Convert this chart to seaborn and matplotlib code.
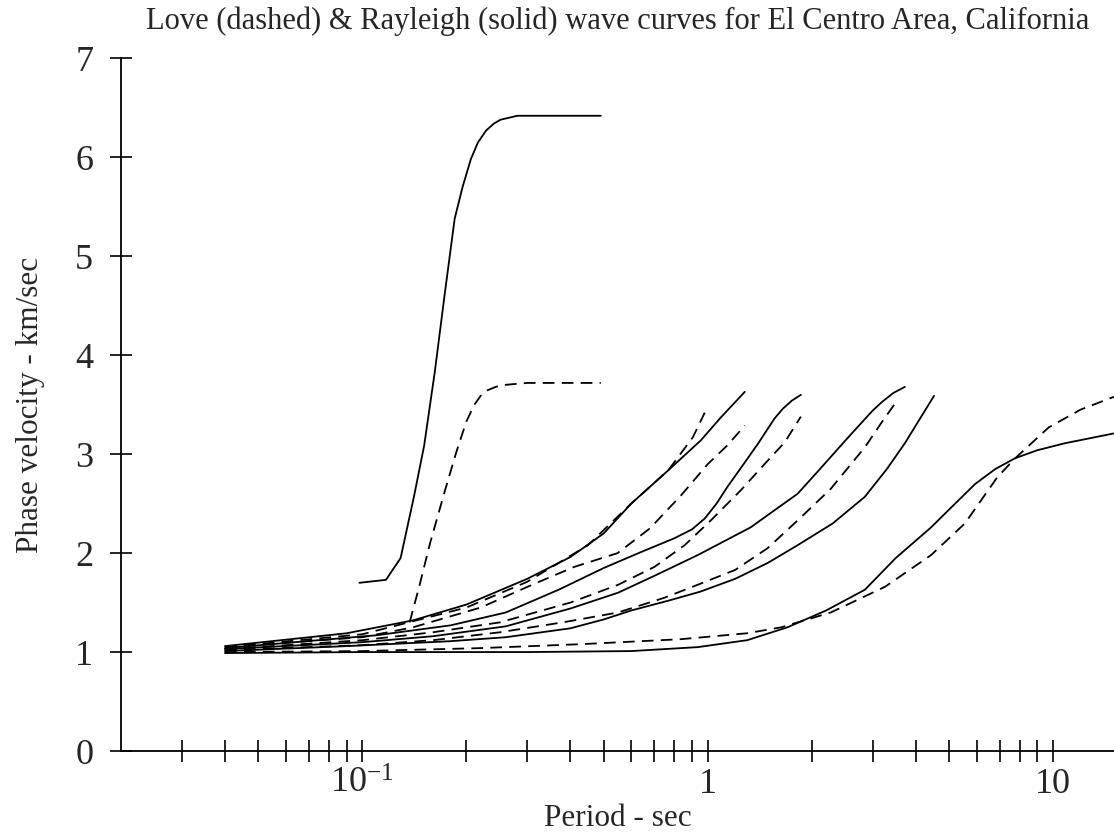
import numpy as np
import pandas as pd
import matplotlib
matplotlib.use("Agg")
import matplotlib.pyplot as plt
from matplotlib.ticker import FixedLocator, NullFormatter
import seaborn as sns

# ---------------- data ----------------
title = "Love (dashed) & Rayleigh (solid) wave curves for El Centro Area, California"
x_label = "Period - sec"
y_label = "Phase velocity - km/sec"
x_major_ticks = [0.1, 1, 10]
x_major_labels = [r"$\mathregular{10^{-1}}$", "1", "10"]
x_minor_ticks = [0.03, 0.04, 0.05, 0.06, 0.07, 0.08, 0.09,
                 0.2, 0.3, 0.4, 0.5, 0.6, 0.7, 0.8, 0.9,
                 2, 3, 4, 5, 6, 7, 8, 9]
y_ticks = [0, 1, 2, 3, 4, 5, 6, 7]

# Rayleigh (solid)
r0_period = [0.04, 0.1, 0.3, 0.6, 0.935, 1.3, 1.7, 2.2, 2.85, 3.5, 4.43, 5.2, 5.95, 6.8, 7.77, 9.0, 10.8, 15]
r0_vel = [0.99, 1.0, 1.0, 1.01, 1.05, 1.12, 1.25, 1.42, 1.63, 1.95, 2.26, 2.5, 2.7, 2.85, 2.96, 3.04, 3.11, 3.21]

r1_period = [0.04, 0.09, 0.18, 0.26, 0.4, 0.5, 0.6, 0.77, 0.95, 1.2, 1.49, 1.82, 2.3, 2.85, 3.3, 3.72, 4.1, 4.52]
r1_vel = [1.01, 1.06, 1.11, 1.15, 1.24, 1.33, 1.42, 1.52, 1.61, 1.74, 1.9, 2.08, 2.3, 2.57, 2.85, 3.11, 3.35, 3.59]

r2_period = [0.04, 0.1, 0.16, 0.26, 0.4, 0.55, 0.7, 0.935, 1.33, 1.82, 2.1, 2.55, 3.0, 3.2, 3.45, 3.72]
r2_vel = [1.03, 1.1, 1.16, 1.26, 1.44, 1.6, 1.77, 1.98, 2.26, 2.6, 2.84, 3.17, 3.44, 3.53, 3.62, 3.68]

r3_period = [0.04, 0.11, 0.18, 0.26, 0.37, 0.5, 0.63, 0.8, 0.9, 0.98, 1.06, 1.14, 1.27, 1.4, 1.56, 1.65, 1.75, 1.86]
r3_vel = [1.04, 1.17, 1.27, 1.4, 1.63, 1.85, 2.0, 2.15, 2.24, 2.35, 2.5, 2.67, 2.9, 3.11, 3.36, 3.46, 3.54, 3.6]

r4_period = [0.04, 0.09, 0.14, 0.2, 0.3, 0.4, 0.5, 0.6, 0.77, 0.955, 1.09, 1.28]
r4_vel = [1.06, 1.19, 1.32, 1.48, 1.74, 1.96, 2.2, 2.5, 2.84, 3.14, 3.37, 3.63]

r5_period = [0.098, 0.117, 0.129, 0.141, 0.151, 0.162, 0.173, 0.185, 0.195, 0.206, 0.216, 0.228, 0.24, 0.251, 0.281, 0.49]
r5_vel = [1.7, 1.73, 1.95, 2.57, 3.09, 3.83, 4.61, 5.38, 5.7, 5.98, 6.15, 6.27, 6.34, 6.38, 6.42, 6.42]

# Love (dashed)
l0_period = [0.04, 0.1, 0.22, 0.43, 0.835, 1.3, 1.63, 2.27, 3.26, 4.43, 5.55, 6.9, 7.77, 9.7, 12, 15]
l0_vel = [1.0, 1.01, 1.04, 1.08, 1.13, 1.19, 1.25, 1.4, 1.66, 1.98, 2.3, 2.77, 2.96, 3.27, 3.45, 3.58]

l1_period = [0.04, 0.1, 0.16, 0.25, 0.38, 0.55, 0.75, 0.935, 1.2, 1.49, 1.82, 2.27, 2.85, 3.2, 3.53]
l1_vel = [1.02, 1.07, 1.12, 1.2, 1.3, 1.4, 1.55, 1.68, 1.83, 2.05, 2.33, 2.65, 3.07, 3.33, 3.54]

l2_period = [0.04, 0.1, 0.16, 0.25, 0.4, 0.55, 0.7, 0.857, 1.02, 1.25, 1.46, 1.67, 1.86]
l2_vel = [1.03, 1.12, 1.2, 1.3, 1.5, 1.68, 1.86, 2.08, 2.33, 2.64, 2.9, 3.12, 3.38]

l3_period = [0.04, 0.1, 0.14, 0.22, 0.31, 0.41, 0.548, 0.68, 0.835, 1.0, 1.14, 1.28]
l3_vel = [1.05, 1.15, 1.25, 1.45, 1.68, 1.86, 2.0, 2.25, 2.58, 2.9, 3.09, 3.29]

l4_period = [0.04, 0.1, 0.2, 0.3, 0.45, 0.6, 0.77, 0.82, 0.905, 0.98]
l4_vel = [1.05, 1.18, 1.45, 1.71, 2.08, 2.5, 2.84, 2.97, 3.17, 3.42]

l5_period = [0.137, 0.146, 0.157, 0.173, 0.187, 0.2, 0.211, 0.22, 0.23, 0.243, 0.258, 0.3, 0.49]
l5_vel = [1.3, 1.66, 2.1, 2.62, 3.02, 3.33, 3.5, 3.59, 3.645, 3.68, 3.7, 3.72, 3.72]

curves = [
    ("R0", "Rayleigh", r0_period, r0_vel), ("R1", "Rayleigh", r1_period, r1_vel),
    ("R2", "Rayleigh", r2_period, r2_vel), ("R3", "Rayleigh", r3_period, r3_vel),
    ("R4", "Rayleigh", r4_period, r4_vel), ("R5", "Rayleigh", r5_period, r5_vel),
    ("L0", "Love", l0_period, l0_vel), ("L1", "Love", l1_period, l1_vel),
    ("L2", "Love", l2_period, l2_vel), ("L3", "Love", l3_period, l3_vel),
    ("L4", "Love", l4_period, l4_vel), ("L5", "Love", l5_period, l5_vel),
]
rows = []
for name, wave, per, vel in curves:
    for p, v in zip(per, vel):
        rows.append({"curve": name, "wave": wave, "period": p, "velocity": v})
df = pd.DataFrame(rows)

# ---------------- style ----------------
sns.set_theme(style="white")
plt.rcParams["font.family"] = ["Liberation Serif", "DejaVu Serif"]
plt.rcParams["mathtext.fontset"] = "custom"
plt.rcParams["mathtext.rm"] = "Liberation Serif"
plt.rcParams["mathtext.it"] = "Liberation Serif:italic"

fig = plt.figure(figsize=(11.14, 8.34), dpi=100)
ax = fig.add_axes([0.1086, 0.0995, 0.8914, 0.8305])

sns.lineplot(data=df, x="period", y="velocity", units="curve", style="wave",
             estimator=None, sort=False, color="black", linewidth=1.3,
             dashes={"Rayleigh": "", "Love": (6.5, 4)}, legend=False, ax=ax)

ax.set_xscale("log")
ax.set_xlim(0.02, 15)
ax.set_ylim(0, 7)

ax.xaxis.set_major_locator(FixedLocator(x_major_ticks))
ax.set_xticklabels(x_major_labels)
ax.xaxis.set_minor_locator(FixedLocator(x_minor_ticks))
ax.xaxis.set_minor_formatter(NullFormatter())
ax.set_yticks(y_ticks)
ax.set_yticklabels([str(t) for t in y_ticks])

ax.tick_params(axis="both", which="both", direction="inout", length=16, width=1.2,
               color="black", bottom=True, left=True)
ax.tick_params(axis="x", which="major", labelsize=26, pad=4)
ax.tick_params(axis="y", which="major", labelsize=26, pad=12)

for s in ["top", "right"]:
    ax.spines[s].set_visible(False)
for s in ["left", "bottom"]:
    ax.spines[s].set_color("black")
    ax.spines[s].set_linewidth(1.3)

ax.set_xlabel(x_label, fontsize=22.5, labelpad=2)
ax.set_ylabel(y_label, fontsize=22.5, labelpad=22)
fig.text(0.5545, 0.975, title, fontsize=22, ha="center", va="center")

fig.savefig("out.png", dpi=100, facecolor="white")
